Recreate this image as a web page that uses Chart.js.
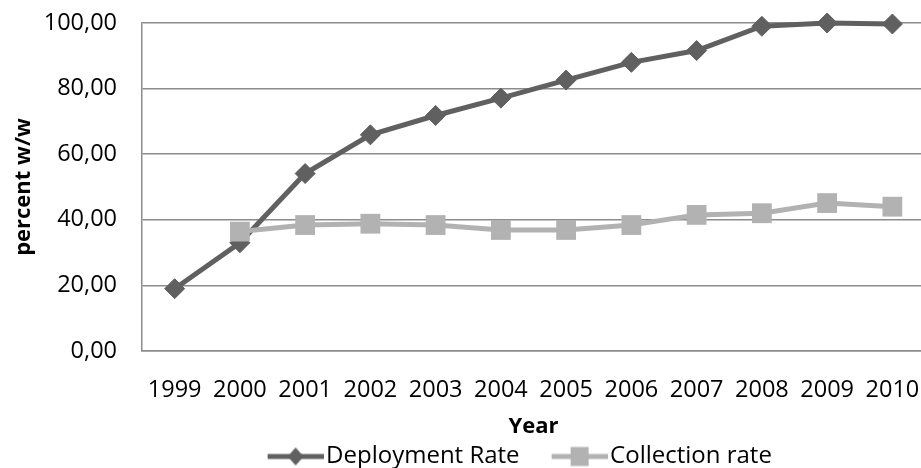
<!DOCTYPE html>
<html>
<head>
<meta charset="utf-8">
<script src="https://cdn.jsdelivr.net/npm/chart.js@4/dist/chart.umd.min.js"></script>
<style>
  html, body { margin: 0; padding: 0; overflow: hidden; background: #ffffff; }
  canvas { display: block; }
</style>
</head>
<body>
<canvas id="chart" width="925" height="468"></canvas>
<script>
// Years on the category axis
const years = ['1999', '2000', '2001', '2002', '2003', '2004', '2005', '2006', '2007', '2008', '2009', '2010'];
// Share of units deployed, percent w/w
const deploymentRate = [19.0, 33.0, 54.1, 65.9, 71.8, 77.1, 82.6, 88.0, 91.6, 99.0, 100.0, 99.7];
// Share of units collected, percent w/w (no figure for 1999)
const collectionRate = [null, 36.4, 38.4, 38.8, 38.4, 36.9, 36.9, 38.4, 41.5, 42.0, 45.1, 44.0];
// Value-axis tick positions
const yTickValues = [0, 20, 40, 60, 80, 100];

const seriesNames = ['Deployment Rate', 'Collection rate'];
const darkGrey = '#606060';
const lightGrey = '#b2b2b2';
const gridGrey = '#8c8c8c';
const FONT = '"Open Sans", "DejaVu Sans", sans-serif';
const clear = 'rgba(0,0,0,0)';

// Legend swatch: a short line with the series marker in the middle,
// with empty space on its left that separates the two legend entries.
function legendSwatch(color, shape) {
  const gap = 38, len = 56, h = 24;
  const c = document.createElement('canvas');
  c.width = gap + len; c.height = h;
  const g = c.getContext('2d');
  const cy = h / 2, cx = gap + len / 2;
  g.strokeStyle = color;
  g.lineWidth = 5;
  g.beginPath(); g.moveTo(gap, cy); g.lineTo(gap + len, cy); g.stroke();
  g.fillStyle = color;
  if (shape === 'diamond') {
    g.beginPath();
    g.moveTo(cx, cy - 9); g.lineTo(cx + 8, cy); g.lineTo(cx, cy + 9); g.lineTo(cx - 8, cy);
    g.closePath(); g.fill();
  } else {
    g.fillRect(cx - 9, cy - 9.5, 18, 19);
  }
  return c;
}
const swatches = [legendSwatch(darkGrey, 'diamond'), legendSwatch(lightGrey, 'square')];

// Moves the legend row sideways after layout
const legendShift = {
  id: 'legendShift',
  afterLayout(chart, args, opts) {
    const lg = chart.legend;
    if (!lg) return;
    lg.left += opts.dx; lg.right += opts.dx;
    lg.top += opts.dy; lg.bottom += opts.dy;
    if (lg.adjustHitBoxes) lg.adjustHitBoxes();
  }
};

new Chart(document.getElementById('chart'), {
  type: 'line',
  data: {
    labels: years,
    datasets: [
      {
        label: seriesNames[0],
        data: deploymentRate,
        borderColor: darkGrey,
        backgroundColor: darkGrey,
        borderWidth: 5,
        pointStyle: 'rectRot',
        pointRadius: 10,
        pointHoverRadius: 10,
        pointBorderWidth: 1,
        pointBackgroundColor: darkGrey,
        pointBorderColor: darkGrey,
        tension: 0,
        clip: false,
        order: 2
      },
      {
        label: seriesNames[1],
        data: collectionRate,
        borderColor: lightGrey,
        backgroundColor: lightGrey,
        borderWidth: 5,
        pointStyle: 'rect',
        pointRadius: 14,
        pointHoverRadius: 14,
        pointBorderWidth: 0,
        pointBackgroundColor: lightGrey,
        pointBorderColor: lightGrey,
        tension: 0,
        clip: false,
        spanGaps: false,
        order: 1
      }
    ]
  },
  options: {
    responsive: false,
    animation: false,
    events: [],
    layout: { autoPadding: false, padding: { top: 23, right: 0, bottom: 0, left: 0 } },
    scales: {
      x: {
        type: 'category',
        offset: true,
        grid: { display: false, drawTicks: true, tickLength: 25, tickColor: clear },
        border: { display: true, color: gridGrey, width: 1.5 },
        ticks: {
          color: '#000000',
          font: { family: FONT, size: 23.5 },
          padding: 0,
          maxRotation: 0,
          autoSkip: false
        },
        title: {
          display: true,
          text: 'Year',
          color: '#000000',
          font: { family: FONT, size: 22, weight: 'bold' },
          padding: { top: 0, bottom: 0 }
        },
        afterFit(scale) {
          scale.height = 88.5;
          scale.paddingLeft = 0;
          scale.paddingRight = 0;
        }
      },
      y: {
        min: 0,
        max: 100,
        afterBuildTicks(scale) { scale.ticks = yTickValues.map(v => ({ value: v })); },
        grid: { color: gridGrey, lineWidth: 1.5, drawTicks: true, tickLength: 25, tickColor: clear },
        border: { display: true, color: gridGrey, width: 1.5 },
        ticks: {
          color: '#000000',
          font: { family: FONT, size: 23.5 },
          padding: 0,
          callback: v => Number(v).toFixed(2).replace('.', ',')
        },
        title: {
          display: true,
          text: 'percent w/w',
          color: '#000000',
          font: { family: FONT, size: 22, weight: 'bold' },
          padding: { top: 10.5, bottom: 0 }
        },
        afterFit(scale) { scale.width = 142; }
      }
    },
    plugins: {
      legendShift: { dx: 43, dy: 1.5 },
      tooltip: { enabled: false },
      legend: {
        display: true,
        position: 'bottom',
        align: 'center',
        maxHeight: 28.5,
        labels: {
          usePointStyle: true,
          pointStyleWidth: 75,
          padding: 3.5,
          color: '#000000',
          font: { family: FONT, size: 24 },
          generateLabels(chart) {
            return chart.data.datasets.map((ds, i) => ({
              text: ds.label,
              pointStyle: swatches[i],
              fillStyle: ds.borderColor,
              strokeStyle: ds.borderColor,
              lineWidth: 0,
              hidden: false,
              datasetIndex: i,
              fontColor: '#000000'
            }));
          }
        }
      }
    }
  },
  plugins: [legendShift]
});
</script>
</body>
</html>
